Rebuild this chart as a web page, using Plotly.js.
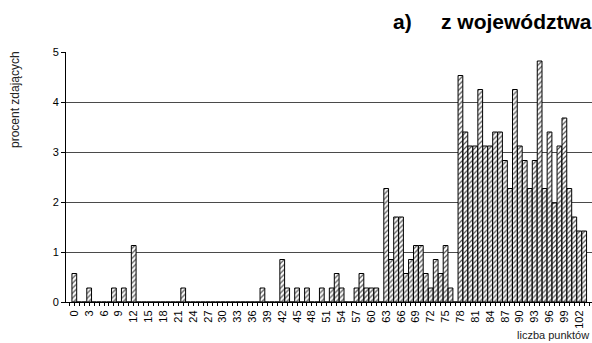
<!DOCTYPE html>
<html>
<head>
<meta charset="utf-8">
<script src="https://cdn.plot.ly/plotly-3.0.1.min.js"></script>
<style>
html,body{margin:0;padding:0;background:#fff;}
#chart{width:592px;height:343px;}
</style>
</head>
<body>
<div id="chart"></div>
<script>
// liczba punktów (categories)
const scores = [
  0,1,2,3,4,5,6,7,8,9,
  10,11,12,13,14,15,16,17,18,19,
  20,21,22,23,24,25,26,27,28,29,
  30,31,32,33,34,35,36,37,38,39,
  40,41,42,43,44,45,46,47,48,49,
  50,51,52,53,54,55,56,57,58,59,
  60,61,62,63,64,65,66,67,68,69,
  70,71,72,73,74,75,76,77,78,79,
  80,81,82,83,84,85,86,87,88,89,
  90,91,92,93,94,95,96,97,98,99,
  100,101,102,103
];
// procent zdających
const percent = [
  0.57,0,0,0.28,0,0,0,0,0.28,0,
  0.28,0,1.13,0,0,0,0,0,0,0,
  0,0,0.28,0,0,0,0,0,0,0,
  0,0,0,0,0,0,0,0,0.28,0,
  0,0,0.85,0.28,0,0.28,0,0.28,0,0,
  0.28,0,0.28,0.57,0.28,0,0,0.28,0.57,0.28,
  0.28,0.28,0,2.27,0.85,1.70,1.70,0.57,0.85,1.13,
  1.13,0.57,0.28,0.85,0.57,1.13,0.28,0,4.53,3.40,
  3.12,3.12,4.25,3.12,3.12,3.40,3.40,2.83,2.27,4.25,
  3.12,2.83,2.27,2.83,4.82,2.27,3.40,1.98,3.12,3.68,
  2.27,1.70,1.42,1.42
];
// tick labels on the x axis
const xTicks = [0,3,6,9,12,15,18,21,24,27,30,33,36,39,42,45,48,51,54,57,60,63,66,69,72,75,78,81,84,87,90,93,96,99,102];
const yTicks = [0,1,2,3,4,5];

const W = 592, H = 343;
const M = {l:66, r:0, t:52, b:41};
const PW = W - M.l - M.r, PH = H - M.t - M.b;
const px = x => (x - M.l) / PW;
const py = y => (H - M.b - y) / PH;

const FONT = 'Arial, "Liberation Sans", sans-serif';

const trace = {
  type: 'bar',
  x: scores,
  y: percent,
  marker: {
    color: '#ffffff',
    line: {color: '#000000', width: 1},
    pattern: {shape: '/', size: 3.5, solidity: 0.35, fgcolor: '#555555', bgcolor: '#ffffff'}
  },
  hoverinfo: 'x+y'
};

const layout = {
  width: W, height: H,
  margin: M,
  paper_bgcolor: '#ffffff',
  plot_bgcolor: '#ffffff',
  showlegend: false,
  bargap: 0.04,
  font: {family: FONT, size: 11, color: '#000'},
  xaxis: {
    range: [-1.68, 104.58],
    tickmode: 'array',
    tickvals: xTicks,
    ticktext: xTicks.map(String),
    tickangle: -90,
    ticks: 'outside', ticklen: 3, tickcolor: '#000',
    minor: {ticks: 'outside', ticklen: 3, tickcolor: '#000', dtick: 1, tick0: 0, showgrid: false},
    showline: true, linecolor: '#000', linewidth: 1,
    showgrid: false, zeroline: false,
    tickfont: {family: FONT, size: 11, color: '#000'}
  },
  yaxis: {
    range: [0, 5],
    tickmode: 'array',
    tickvals: yTicks,
    ticktext: yTicks.map(String),
    ticks: 'outside', ticklen: 4, tickcolor: '#000',
    showline: true, linecolor: '#000', linewidth: 1,
    showgrid: true, gridcolor: '#4a4a4a', gridwidth: 1,
    zeroline: false,
    tickfont: {family: FONT, size: 11, color: '#000'}
  },
  annotations: [
    {text: 'procent zdających', xref: 'paper', yref: 'paper',
     x: px(15), y: py(100), xanchor: 'center', yanchor: 'middle',
     textangle: -90, showarrow: false, font: {family: FONT, size: 12, color: '#222'}},
    {text: 'liczba punktów', xref: 'paper', yref: 'paper',
     x: px(591), y: py(335), xanchor: 'right', yanchor: 'middle',
     showarrow: false, font: {family: FONT, size: 11, color: '#222'}},
    {text: '<b>a)</b>', xref: 'paper', yref: 'paper',
     x: px(391), y: py(22), xanchor: 'left', yanchor: 'middle',
     showarrow: false, font: {family: FONT, size: 21, color: '#000'}},
    {text: '<b>z województwa</b>', xref: 'paper', yref: 'paper',
     x: px(439), y: py(22), xanchor: 'left', yanchor: 'middle',
     showarrow: false, font: {family: FONT, size: 21, color: '#000'}}
  ]
};

Plotly.newPlot('chart', [trace], layout, {staticPlot: true, displayModeBar: false});
</script>
</body>
</html>
